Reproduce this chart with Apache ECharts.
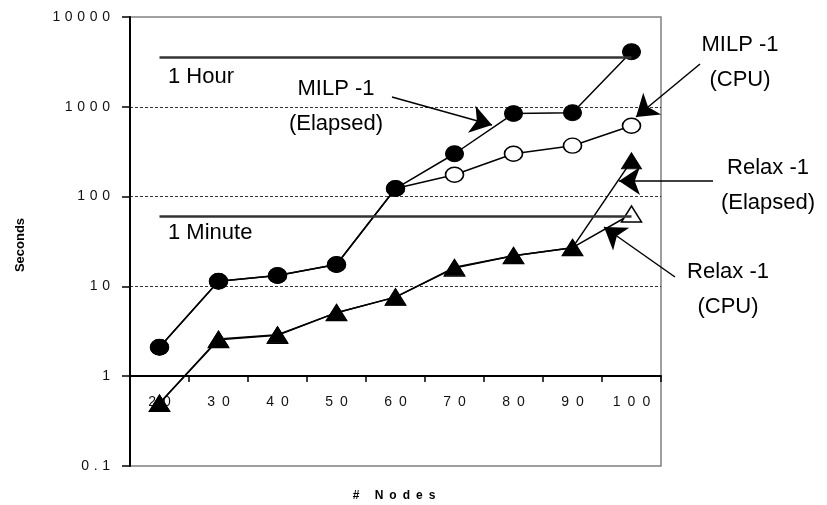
<!DOCTYPE html>
<html>
<head>
<meta charset="utf-8">
<title>Seconds vs # Nodes</title>
<script src="https://cdn.jsdelivr.net/npm/echarts@6/dist/echarts.min.js"></script>
<style>
	html, body {
		margin : 0;
		padding : 0;
		background : #fff;
	}
	#chart {
		width : 827px;
		height : 505px;
	}
</style>
</head>
<body>
<div id="chart"></div>
<script>
	var nodes = [ '20', '30', '40', '50', '60', '70', '80', '90', '100' ];
	var milpElapsed = [ 2.1, 11.4, 13.2, 17.5, 123, 300, 840, 860, 4100 ];
	var milpCpu = [ 2.1, 11.4, 13.2, 17.5, 123, 175, 300, 369, 615 ];
	var relaxElapsed = [ 0.5, 2.6, 2.9, 5.1, 7.6, 16.3, 22, 27, 250 ];
	var relaxCpu = [ 0.5, 2.55, 2.85, 5.1, 7.6, 16, 22, 27, 64 ];
	var oneHour = 3600;
	var oneMinute = 60;

	var FONT = '"Liberation Sans", Arial, sans-serif';

	// spread characters like the old spreadsheet fonts did
	function spaced(text, gap) {
		return String(text).split('').join(gap || '\u2002');
	}

	function tickText(value) {
		var v = value >= 1 ? Math.round(value) : +value.toPrecision(2);
		return spaced(v, '\u2004');
	}

	function arrow(x1, y1, x2, y2) {
		return [ {
			x : x1,
			y : y1
		}, {
			x : x2,
			y : y2
		} ];
	}

	function note(text, x, y, align) {
		return {
			type : 'text',
			x : x,
			y : y,
			style : {
				text : text,
				font : '22px ' + FONT,
				fill : '#000',
				align : align || 'center',
				verticalAlign : 'middle',
				lineHeight : 35
			}
		};
	}

	var black = '#000';

	var option = {
		animation : false,
		backgroundColor : '#fff',
		grid : {
			left : 130,
			right : 166,
			top : 17,
			bottom : 39,
			show : true,
			borderColor : '#808080',
			borderWidth : 1.5
		},
		xAxis : {
			type : 'category',
			data : nodes,
			boundaryGap : true,
			offset : -90,
			axisLine : {
				lineStyle : {
					color : black,
					width : 2
				}
			},
			axisTick : {
				show : true,
				length : 6,
				lineStyle : {
					color : black,
					width : 1.5
				}
			},
			axisLabel : {
				margin : 19,
				color : '#111',
				fontSize : 14,
				fontFamily : FONT,
				formatter : function(v) {
					return spaced(v);
				}
			},
			splitLine : {
				show : false
			}
		},
		yAxis : {
			type : 'log',
			logBase : 10,
			min : 0.1,
			max : 10000,
			axisLine : {
				show : true,
				lineStyle : {
					color : black,
					width : 2
				}
			},
			axisTick : {
				show : true,
				length : 8,
				lineStyle : {
					color : black,
					width : 1.5
				}
			},
			axisLabel : {
				margin : 20,
				color : '#111',
				fontSize : 14,
				fontFamily : FONT,
				formatter : tickText
			},
			splitLine : {
				show : true,
				showMinLine : false,
				showMaxLine : false,
				lineStyle : {
					color : black,
					width : 0.8,
					type : [ 3, 2 ]
				}
			},
			minorTick : {
				show : false
			}
		},
		graphic : [ note('1 Hour', 168, 77, 'left'), note('1 Minute', 168, 233, 'left'),
				note('MILP -1\n(Elapsed)', 336, 106), note('MILP -1\n(CPU)', 740, 62),
				note('Relax -1\n(Elapsed)', 768, 185), note('Relax -1\n(CPU)', 728, 289), {
					type : 'text',
					x : 394,
					y : 496,
					style : {
						text : '#\u2002 \u2002N\u2002o\u2002d\u2002e\u2002s',
						font : 'bold 12px ' + FONT,
						fill : '#000',
						align : 'center',
						verticalAlign : 'middle'
					}
				}, {
					type : 'text',
					x : 20,
					y : 245,
					rotation : Math.PI / 2,
					style : {
						text : 'Seconds',
						font : 'bold 13px ' + FONT,
						fill : '#000',
						align : 'center',
						verticalAlign : 'middle'
					}
				} ],
		series : [ {
			name : 'MILP-1 (CPU)',
			type : 'line',
			data : milpCpu,
			symbol : 'circle',
			symbolSize : [ 18, 15 ],
			itemStyle : {
				color : '#fff',
				borderColor : black,
				borderWidth : 1.5
			},
			lineStyle : {
				color : black,
				width : 1.5
			},
			markLine : {
				silent : true,
				symbol : [ 'none', 'none' ],
				label : {
					show : false
				},
				lineStyle : {
					color : '#333',
					width : 2.5,
					type : 'solid'
				},
				data : [ [ {
					coord : [ nodes[0], oneHour ]
				}, {
					coord : [ nodes[nodes.length - 1], oneHour ]
				} ], [ {
					coord : [ nodes[0], oneMinute ]
				}, {
					coord : [ nodes[nodes.length - 1], oneMinute ]
				} ] ]
			}
		}, {
			name : 'MILP-1 (Elapsed)',
			type : 'line',
			data : milpElapsed,
			symbol : 'circle',
			symbolSize : [ 18, 16 ],
			itemStyle : {
				color : black,
				borderColor : black,
				borderWidth : 1
			},
			lineStyle : {
				color : black,
				width : 1.5
			}
		}, {
			name : 'Relax-1 (CPU)',
			type : 'line',
			data : relaxCpu,
			symbol : 'triangle',
			symbolSize : [ 20, 16 ],
			itemStyle : {
				color : '#fff',
				borderColor : black,
				borderWidth : 1.5
			},
			lineStyle : {
				color : black,
				width : 1.5
			}
		}, {
			name : 'Relax-1 (Elapsed)',
			type : 'line',
			data : relaxElapsed,
			symbol : 'triangle',
			symbolSize : [ 20, 16 ],
			clip : false,
			itemStyle : {
				color : black,
				borderColor : black,
				borderWidth : 1
			},
			lineStyle : {
				color : black,
				width : 1.5
			},
			markLine : {
				silent : true,
				symbol : [ 'none', 'arrow' ],
				symbolSize : 21,
				label : {
					show : false
				},
				lineStyle : {
					color : black,
					width : 1.5,
					type : 'solid'
				},
				data : [ arrow(392, 97, 492, 125), arrow(700, 64, 636, 117), arrow(713, 181, 619, 181),
						arrow(675, 277, 604, 227) ]
			}
		} ]
	};

	var chart = echarts.init(document.getElementById('chart'), null, {
		renderer : 'canvas'
	});
	chart.setOption(option);
</script>
</body>
</html>
